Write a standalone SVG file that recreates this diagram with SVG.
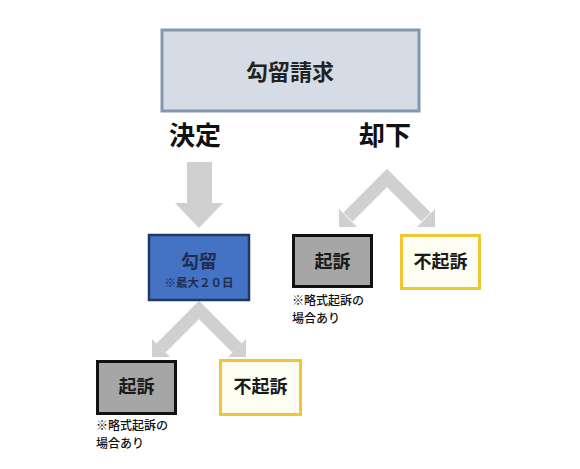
<svg xmlns="http://www.w3.org/2000/svg" width="580" height="469" viewBox="0 0 580 469">
<style>
text{font-family:"Noto Sans CJK JP","Noto Sans",sans-serif;font-weight:bold;}
.arr{fill:#D0D0D0;}
.shaft{fill:none;stroke:#D0D0D0;stroke-width:13;stroke-linejoin:miter;}
.big{font-size:26px;fill:#111;}
.lbl{font-size:18px;fill:#1a1a1a;text-anchor:middle;}
.note{font-size:12px;fill:#111;font-weight:500;}
</style>
<rect width="580" height="469" fill="#fff"/>
<g id="connectors">
<rect class="arr" x="187" y="162" width="25" height="42"/>
<polygon class="arr" points="175,203 223,203 199,228"/>
<polyline class="shaft" points="348,217 387,178 426,217"/>
<polygon class="arr" points="339,227 339,209 357,227"/>
<polygon class="arr" points="435,227 435,209 417,227"/>
<polyline class="shaft" points="161,348 199,310 237,348"/>
<polygon class="arr" points="152,357 152,339 170,357"/>
<polygon class="arr" points="246,357 246,339 228,357"/>
</g>
<g id="request">
<rect x="162" y="30" width="257" height="81" fill="#D6DCE5" stroke="#8497B0" stroke-width="3"/>
<text x="290" y="80" font-size="22" fill="#222" text-anchor="middle">勾留請求</text>
</g>
<g id="label-decision"><text class="big" x="169" y="145">決定</text></g>
<g id="label-reject"><text class="big" x="359" y="145">却下</text></g>
<g id="detention">
<rect x="149" y="235" width="100" height="65" fill="#4472C4" stroke="#203864" stroke-width="2.5"/>
<text x="199" y="268" font-size="18" fill="#1F2D50" text-anchor="middle">勾留</text>
<text x="199" y="287" font-size="11.5" fill="#1F2D50" text-anchor="middle">※最大２０日</text>
</g>
<g id="prosecute-1">
<rect x="293.5" y="235.5" width="78" height="51" fill="#A6A6A6" stroke="#111" stroke-width="3"/>
<text class="lbl" x="332.5" y="268">起訴</text>
<text class="note" x="292" y="305">※略式起訴の</text>
<text class="note" x="292" y="322.5">場合あり</text>
</g>
<g id="noprosecute-1">
<rect x="401.5" y="235.5" width="78" height="53" fill="#FEFEF2" stroke="#F2C633" stroke-width="3"/>
<text class="lbl" x="440.5" y="268">不起訴</text>
</g>
<g id="prosecute-2">
<rect x="97.5" y="361.5" width="78" height="52" fill="#A6A6A6" stroke="#111" stroke-width="3"/>
<text class="lbl" x="136.5" y="393">起訴</text>
<text class="note" x="96" y="430">※略式起訴の</text>
<text class="note" x="96" y="447.5">場合あり</text>
</g>
<g id="noprosecute-2">
<rect x="220.5" y="360.5" width="80" height="54" fill="#FEFEF2" stroke="#F2C633" stroke-width="3"/>
<text class="lbl" x="260.5" y="393">不起訴</text>
</g>
</svg>
